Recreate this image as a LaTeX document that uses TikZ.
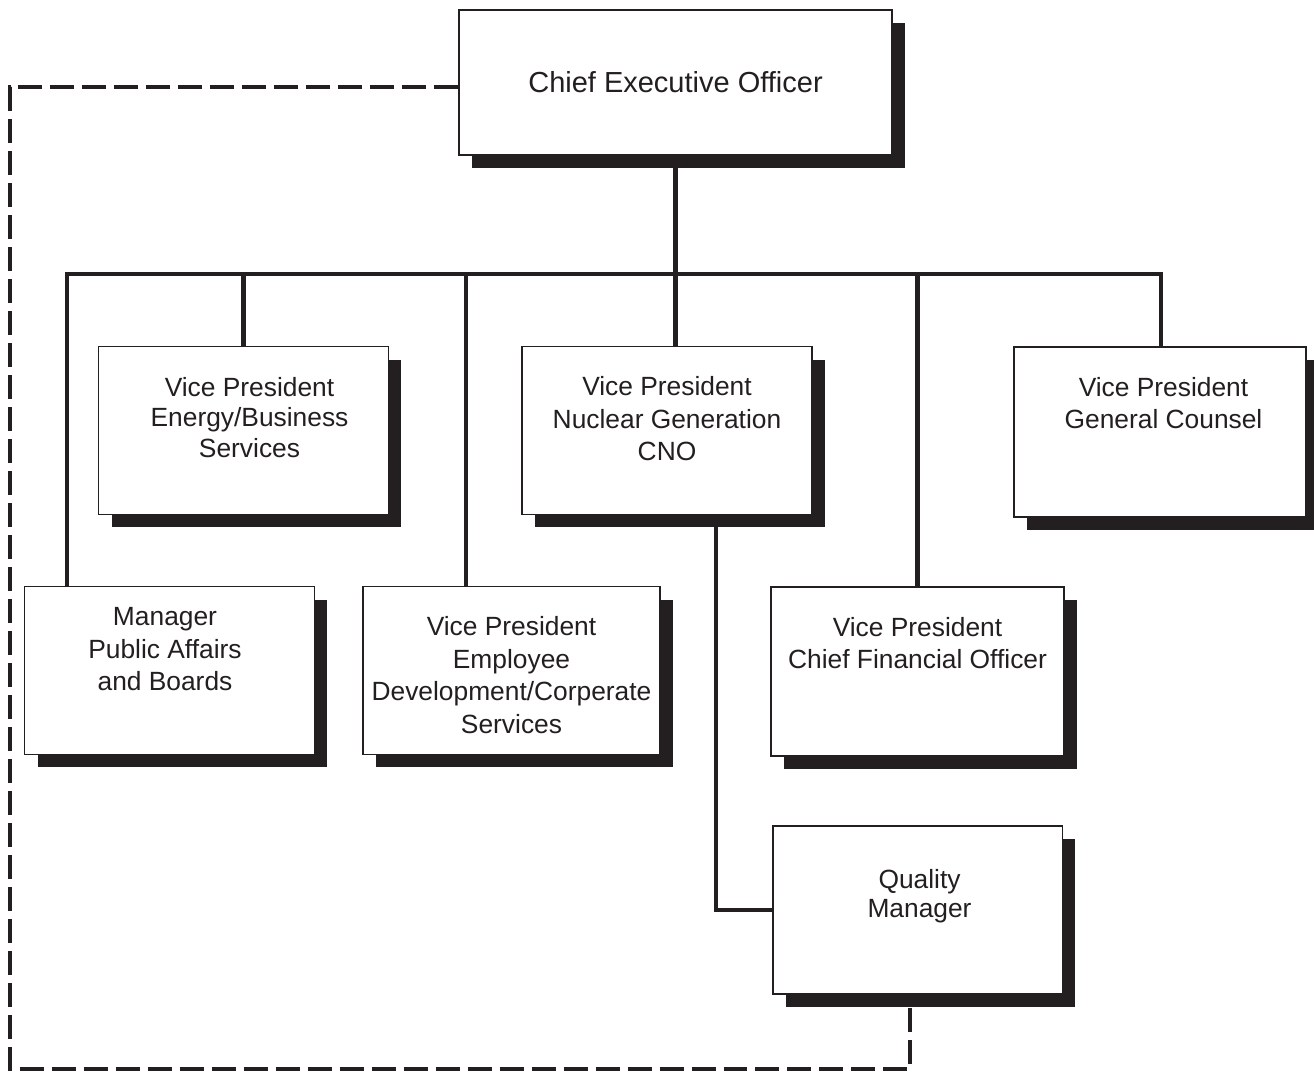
\documentclass[tikz,border=0pt]{standalone}
\usepackage{fontspec}
\setmainfont{Liberation Sans}
\usetikzlibrary{shadows,positioning}
\definecolor{ink}{RGB}{35,31,32}

\begin{document}
\begin{tikzpicture}[x=0.02cm,y=-0.02cm,line width=2.3pt,color=ink]
\tikzstyle{box}=[draw=ink,line width=1.1pt,fill=white,minimum width=5.8cm,minimum height=3.36cm,
  drop shadow={shadow xshift=0.26cm,shadow yshift=-0.26cm,fill=ink,opacity=1}]
\tikzstyle{lbl}=[inner sep=0pt,align=center,text=ink,font=\fontsize{15}{18.5}\selectfont]
\tikzstyle{dashline}=[dash pattern=on 0.48cm off 0.16cm]
\useasboundingbox (0,0) rectangle (1314,1071);
% boxes
\node[box,minimum width=8.66cm,minimum height=2.9cm,text=ink,font=\fontsize{16.5}{20}\selectfont] (ceo) at (675.5,82.5) {Chief Executive Officer};
\node[box] (vpe) at (243.5,430.5) {};
\node[box] (nuc) at (667,430.5) {};
\node[box,minimum width=5.84cm,minimum height=3.4cm] (gc) at (1160,432) {};
\node[box] (pa) at (169.5,670.5) {};
\node[box,minimum width=5.94cm] (emp) at (511.5,670.5) {};
\node[box,minimum width=5.86cm,minimum height=3.38cm] (cfo) at (917.5,671.5) {};
\node[box,minimum height=3.36cm] (qm) at (917.5,910) {};
% texts
\node[lbl,font=\fontsize{15}{17.2}\selectfont,below=0.6cm of vpe.north,xshift=0.12cm] (vpeT) {Vice President\\Energy/Business\\Services};
\node[lbl,below=0.58cm of nuc.north] (nucT) {Vice President\\Nuclear Generation\\CNO};
\node[lbl,below=0.58cm of gc.north,xshift=0.07cm] (gcT) {Vice President\\General Counsel};
\node[lbl,below=0.40cm of pa.north,xshift=-0.09cm] (paT) {Manager\\Public Affairs\\and Boards};
\node[lbl,below=0.58cm of emp.north] (empT) {Vice President\\Employee\\Development/Corperate\\Services};
\node[lbl,below=0.58cm of cfo.north] (cfoT) {Vice President\\Chief Financial Officer};
\node[lbl,font=\fontsize{15}{16.8}\selectfont,below=0.84cm of qm.north,xshift=0.04cm] (qmT) {Quality\\Manager};
% lines
\coordinate (busL) at (67,274);
\coordinate (busR) at (1161,274);
\coordinate (busE) at (466,274);
\draw (busL |- pa.north) -- (busL) -- (busR) -- (busR |- gc.north);
\draw (ceo.south) -- (ceo.south |- nuc.north);
\draw (vpe.north |- busL) -- (vpe.north);
\draw (busE) -- (busE |- emp.north);
\draw (cfo.north |- busL) -- (cfo.north);
\draw (qm.west) -| ([xshift=0.98cm]nuc.south);
% dotted line
\coordinate (dashC) at (10,1069);
\draw[dashline] ([yshift=-0.09cm]ceo.west) -| (dashC) -| ([xshift=-0.15cm]qm.south);
\end{tikzpicture}
\end{document}
